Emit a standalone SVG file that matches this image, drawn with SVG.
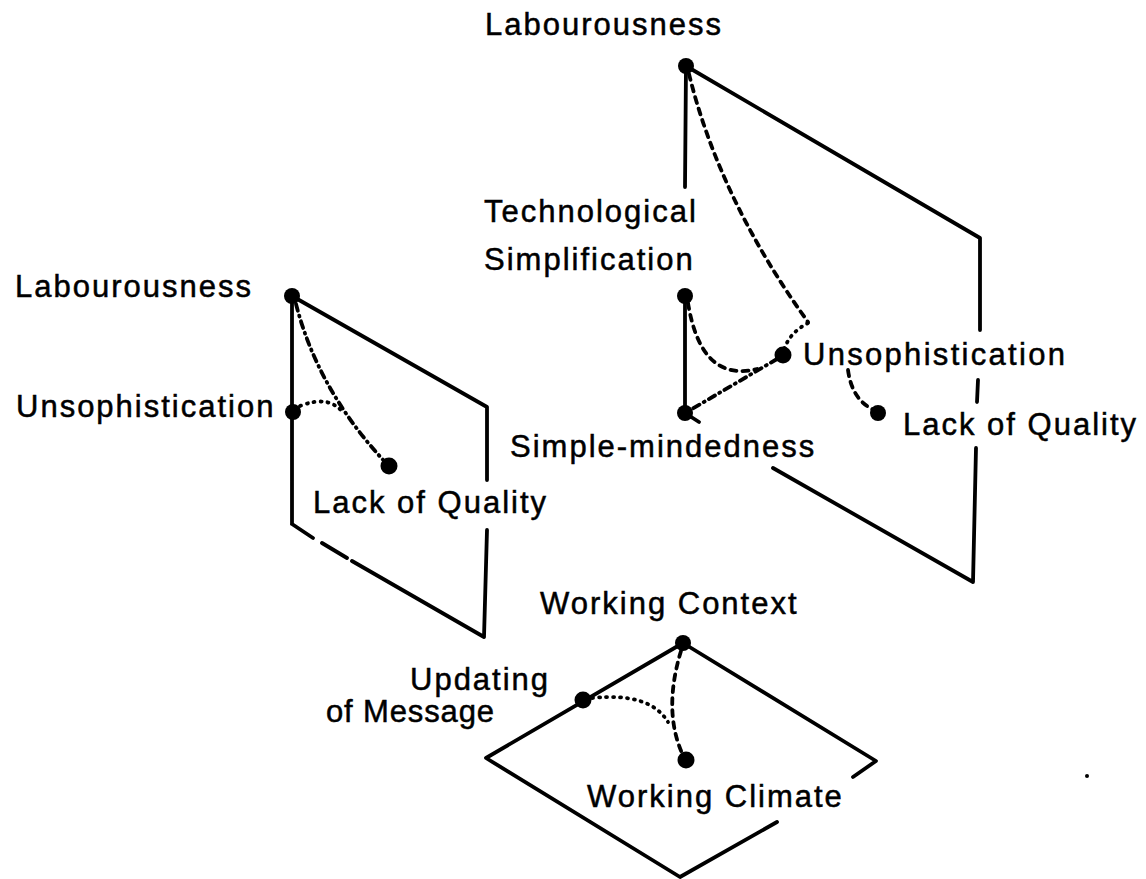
<svg xmlns="http://www.w3.org/2000/svg" width="1146" height="879" viewBox="0 0 1146 879">
<style>
  text { font-family: "Liberation Sans", Arial, Helvetica, sans-serif; font-size: 31px; letter-spacing: 2px; fill: #000; stroke: #000; stroke-width: 0.5; }
  .edge { fill: none; stroke: #000; stroke-width: 3.8; stroke-linecap: round; stroke-linejoin: round; }
  .dash { fill: none; stroke: #000; stroke-width: 3.8; stroke-linecap: round; stroke-dasharray: 6 6; }
  .dot { fill: none; stroke: #000; stroke-width: 3.8; stroke-linecap: round; stroke-dasharray: 1 6; }
  .dashdot { fill: none; stroke: #000; stroke-width: 3.8; stroke-linecap: round; stroke-dasharray: 7 5 1 5; }
  .node { fill: #000; }
</style>
<rect width="1146" height="879" fill="#fff"/>

<!-- plane outlines -->
<g id="plane-left">
  <path class="edge" d="M292 296 L292 524 M292 296 L487 407 L487 480 M487 530 L484 637 M292 524 L313 538 M322 543 L347 558 M352 561 L484 637"/>
</g>
<g id="plane-right">
  <path class="edge" d="M686 66 L685 187 M686 66 L980 238 L980 330 M978 380 L977 402 M976 448 L973 582 L773 468 M685 296 L685 413 L699 422"/>
</g>
<g id="plane-bottom">
  <path class="edge" d="M683 643 L486 758 L680 877 L777 822 M683 643 L876 761 L853 777"/>
</g>

<!-- connectors -->
<g id="connectors">
  <path class="dashdot" d="M296 304 Q318 390 385 462"/>
  <path class="dot" d="M300 406 Q330 394 344 414"/>
  <path class="dash" d="M689 74 Q720 200 808 322"/>
  <path class="dot" d="M808 323 Q789 333 784 350"/>
  <path class="dashdot" d="M777 359 L692 409"/>
  <path class="dash" d="M688 303 C695 345 712 380 757 369"/>
  <path class="dash" d="M848 370 Q852 400 874 410"/>
  <path class="dash" d="M681 651 Q663 710 682 753"/>
  <path class="dot" d="M592 698 Q650 692 668 722"/>
</g>

<!-- nodes -->
<g id="n-labour-left"><circle class="node" cx="292" cy="296" r="8"/><text x="15" y="297">Labourousness</text></g>
<g id="n-unsoph-left"><circle class="node" cx="293" cy="412" r="8"/><text x="16" y="417">Unsophistication</text></g>
<g id="n-lack-left"><circle class="node" cx="389" cy="466" r="8.5"/><text x="313" y="513">Lack of Quality</text></g>

<g id="n-labour-right"><circle class="node" cx="686" cy="66" r="8"/><text x="485" y="35">Labourousness</text></g>
<g id="n-tech"><circle class="node" cx="685" cy="296" r="8"/><text x="484" y="222">Technological</text><text x="484" y="270">Simplification</text></g>
<g id="n-simple"><circle class="node" cx="685" cy="413" r="8"/><text x="510" y="457">Simple-mindedness</text></g>
<g id="n-unsoph-right"><circle class="node" cx="783" cy="355" r="8.5"/><text x="803" y="365" textLength="264" lengthAdjust="spacing">Unsophistication</text></g>
<g id="n-lack-right"><circle class="node" cx="878" cy="413" r="8"/><text x="903" y="435">Lack of Quality</text></g>

<g id="n-context"><circle class="node" cx="683" cy="643" r="8"/><text x="540" y="614">Working Context</text></g>
<g id="n-updating"><circle class="node" cx="583" cy="700" r="8.5"/><text x="410" y="690">Updating</text><text x="326" y="722" textLength="170" lengthAdjust="spacing">of Message</text></g>
<g id="n-climate"><circle class="node" cx="686" cy="760" r="8.5"/><text x="587" y="807">Working Climate</text></g>

<circle cx="1087" cy="776" r="2" fill="#000"/>
</svg>
